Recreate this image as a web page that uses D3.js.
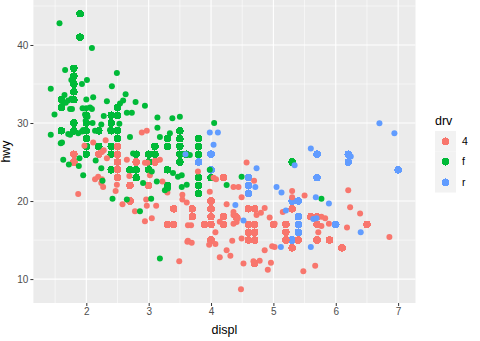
<!DOCTYPE html>
<html>
<head>
<meta charset="utf-8">
<script src="https://cdn.jsdelivr.net/npm/d3@7"></script>
<style>
  body { margin: 0; background: #ffffff; }
  text { font-family: "Liberation Sans", Arial, sans-serif; }
</style>
</head>
<body>
<svg id="chart" width="480" height="341"></svg>
<script>
// Fuel economy: engine displacement (litres) vs highway mpg, by drive train.
const displ = [
  1.8,1.8,2.0,2.0,2.8,2.8,3.1,
  1.8,1.8,2.0,2.0,2.8,2.8,3.1,3.1,
  2.8,3.1,4.2,
  5.3,5.3,5.3,5.7,6.0,
  5.7,5.7,6.2,6.2,7.0,
  5.3,5.3,5.7,6.5,
  2.4,2.4,3.1,3.5,3.6,
  2.4,3.0,3.3,3.3,3.3,3.3,3.3,3.8,3.8,3.8,4.0,
  3.7,3.7,3.9,3.9,4.7,4.7,4.7,5.2,5.2,
  3.9,4.7,4.7,4.7,5.2,5.7,5.9,
  4.7,4.7,4.7,4.7,4.7,4.7,5.2,5.2,5.7,5.9,
  4.6,5.4,5.4,
  4.0,4.0,4.0,4.0,4.6,5.0,
  4.2,4.2,4.6,4.6,4.6,5.4,5.4,
  3.8,3.8,4.0,4.0,4.6,4.6,4.6,4.6,5.4,
  1.6,1.6,1.6,1.6,1.6,1.8,1.8,1.8,2.0,
  2.4,2.4,2.4,2.4,2.5,2.5,3.3,
  2.0,2.0,2.0,2.0,2.7,2.7,2.7,
  3.0,3.7,4.0,4.7,4.7,4.7,5.7,6.1,
  4.0,4.2,4.4,4.6,
  5.4,5.4,5.4,
  4.0,4.0,4.6,5.0,
  2.4,2.4,2.5,2.5,3.5,3.5,
  3.0,3.0,3.5,
  3.3,3.3,4.0,5.6,
  3.1,3.8,3.8,3.8,5.3,
  2.5,2.5,2.5,2.5,2.5,2.5,
  2.2,2.2,2.5,2.5,2.5,2.5,2.5,2.5,
  2.7,2.7,3.4,3.4,4.0,4.7,
  2.2,2.2,2.4,2.4,3.0,3.0,3.5,
  2.2,2.2,2.4,2.4,3.0,3.0,3.3,
  1.8,1.8,1.8,1.8,1.8,
  4.7,5.7,
  2.7,2.7,2.7,3.4,3.4,4.0,4.0,
  2.0,2.0,2.0,2.0,2.8,
  1.9,2.0,2.0,2.0,2.0,2.5,2.5,2.8,2.8,
  1.9,1.9,2.0,2.0,2.5,2.5,
  1.8,1.8,2.0,2.0,2.8,2.8,3.6
];
const hwy = [
  29,29,31,30,26,26,27,
  26,25,28,27,25,25,25,25,
  24,25,23,
  20,15,20,17,17,
  26,23,26,25,24,
  19,14,15,17,
  27,30,26,29,26,
  24,24,22,22,24,24,17,22,21,23,23,
  19,18,17,17,19,19,12,17,15,
  17,17,12,17,16,18,15,
  16,12,17,17,16,12,15,16,17,15,
  17,17,18,
  17,19,17,19,19,17,
  17,17,16,16,17,15,17,
  26,25,26,24,21,22,23,22,20,
  33,32,32,29,32,34,36,36,29,
  26,27,30,31,26,26,28,
  26,29,28,27,24,24,24,
  22,19,20,17,12,19,18,14,
  15,18,18,15,
  17,16,18,
  17,19,19,17,
  29,27,31,32,27,26,
  26,25,25,
  17,17,20,18,
  26,26,27,28,25,
  25,24,27,25,26,23,
  26,26,26,26,25,27,25,27,
  20,20,19,17,20,17,
  29,27,31,31,26,26,28,
  27,29,31,31,26,26,27,
  30,33,35,37,35,
  15,18,
  20,20,22,17,19,18,20,
  29,26,29,29,24,
  44,29,26,29,29,29,29,23,24,
  44,41,29,26,28,29,
  29,29,28,29,26,26,26
];
const drv = [
  "fffffff","44444444","444","rrrrr","rrrrr","4444","fffff","fffffffffff",
  "444444444","4444444","4444444444","rrr","444444","4444444","rrrrrrrrr",
  "fffffffff","fffffff","fffffff","44444444","4444","rrr","4444","ffffff",
  "fff","4444","fffff","444444","44444444","444444","fffffff","fffffff",
  "fffff","44","4444444","fffff","fffffffff","ffffff","fffffff"
].join("").split("");

// Second, scattered copy of the observations (displ, hwy) for each drive train.
const jitter4 = [
  [1.97,27.1],[2.11,27.5],[2.31,27.8],[2.25,26.3],[2.28,26.5],[2.33,25.5],[2.65,25.3],
  [2.69,23.2],[2.14,22.8],[2.19,23.1],[2.25,22.8],[2.24,22.3],[2.27,21.8],[2.49,22.1],
  [1.87,20.9],[2.58,19.6],[2.78,18.7],[2.96,20.2],[2.97,19.4],[3.12,19.4],[2.94,17.4],
  [3.05,17.8],[3.30,21.1],[3.54,20.8],[3.54,20.2],[3.61,19.8],[3.62,14.8],[3.49,12.3],
  [2.89,28.8],[2.97,29.0],[2.94,24.9],[2.98,24.9],[3.18,25.3],[3.79,23.8],[3.22,22.5],
  [3.02,23.3],[4.04,23.0],[4.08,22.8],[3.98,21.2],[4.57,24.95],[4.69,22.6],[4.36,21.8],
  [4.44,21.8],[4.49,20.5],[5.30,21.3],[5.30,20.5],[5.50,20.7],[6.20,21.4],[6.23,19.2],
  [6.39,18.4],[5.77,18.0],[5.83,17.8],[5.77,16.8],[5.89,17.1],[6.18,16.6],[6.86,15.4],
  [5.67,11.7],[5.48,11.0],[5.72,16.0],[4.25,19.6],[4.86,19.1],[4.73,18.2],[4.80,18.5],
  [4.94,17.9],[5.02,17.1],[5.15,18.6],[3.63,16.9],[3.68,16.9],[3.63,14.9],[3.69,14.65],
  [3.97,14.4],[4.07,14.5],[4.07,16.0],[4.36,18.2],[4.36,17.1],[4.41,17.3],[4.34,14.9],
  [4.25,13.7],[4.31,13.0],[4.14,12.8],[4.52,12.0],[4.68,12.3],[4.78,12.35],[4.96,12.1],
  [4.91,11.2],[4.48,8.7],[4.86,13.7],[4.98,14.2],[5.02,14.1],[4.49,15.2],[4.14,17.35],
  [4.36,18.6],[4.43,17.8],[2.47,21.3]
];
const jitterF = [
  [1.57,42.8],[2.09,39.6],[1.43,34.4],[1.66,36.8],[1.76,35.5],[1.93,35.0],[2.01,35.5],
  [2.49,36.4],[2.41,34.7],[1.49,31.1],[1.43,28.5],[1.65,33.6],[1.61,32.2],[1.67,32.6],
  [1.71,32.9],[1.76,33.1],[1.74,31.8],[1.77,31.8],[2.00,33.0],[2.11,33.3],[2.00,31.9],
  [2.06,32.0],[2.09,31.8],[1.98,31.1],[2.02,30.8],[1.99,30.3],[1.59,27.4],[1.63,25.3],
  [1.72,24.7],[2.63,33.7],[2.33,32.8],[2.79,32.7],[1.94,31.9],[2.28,30.9],[2.54,32.5],
  [2.59,32.9],[2.65,31.3],[2.73,31.3],[2.10,30.0],[2.24,29.8],[2.53,29.9],[2.38,29.1],
  [1.74,28.5],[1.71,28.6],[1.87,28.7],[1.93,28.9],[1.95,29.1],[2.14,29.0],[2.70,28.2],
  [1.61,27.5],[2.75,26.1],[1.89,25.5],[2.15,25.2],[2.24,24.2],[1.95,23.3],[2.42,20.3],
  [2.65,20.2],[2.86,18.7],[3.04,20.3],[3.26,21.4],[3.18,12.65],[2.94,32.2],[3.38,30.6],
  [3.50,30.8],[4.05,30.0],[3.66,25.9],[3.34,28.7],[3.18,28.2],[3.05,23.8],[3.39,23.6],
  [3.47,23.1],[3.53,23.3],[3.13,22.5],[3.31,21.6],[2.91,22.3],[3.53,21.8],[3.61,22.1],
  [3.98,24.0],[4.25,22.05],[4.49,23.1],[5.77,20.3],[1.88,24.5],[2.26,22.6],[3.14,30.7],
  [3.14,29.4]
];
const jitterR = [
  [3.98,28.8],[4.11,28.8],[4.04,27.2],[3.59,26.0],[5.60,26.75],[5.34,24.6],[4.73,24.2],
  [4.71,21.8],[5.05,21.8],[5.13,21.1],[5.68,20.5],[6.24,25.7],[6.70,29.96],[6.94,28.7],
  [5.89,19.7],[5.64,17.7],[5.69,17.8],[6.40,16.0],[5.60,14.1],[4.39,19.5],[5.20,18.8],
  [5.12,14.1],[4.52,17.5]
];

const drvLevels = ["4", "f", "r"];
const drvColors = ["#F8766D", "#00BA38", "#619CFF"];
const xTicks = [2, 3, 4, 5, 6, 7];
const yTicks = [10, 20, 30, 40];
const xTitle = "displ", yTitle = "hwy", legendTitle = "drv";

// ---- assemble observations ----
const exact = displ.map((d, i) => ({ x: d, y: hwy[i], drv: drv[i] }));
const scattered = []
  .concat(jitter4.map(p => ({ x: p[0], y: p[1], drv: "4" })))
  .concat(jitterF.map(p => ({ x: p[0], y: p[1], drv: "f" })))
  .concat(jitterR.map(p => ({ x: p[0], y: p[1], drv: "r" })));
const all = exact.concat(scattered);

const svg = d3.select("#chart");
const panel = { left: 33.4, right: 415.5, top: 0, bottom: 303 };

// continuous scales with 5% expansion on each side
function expanded(ext) { const p = (ext[1] - ext[0]) * 0.05; return [ext[0] - p, ext[1] + p]; }
const x = d3.scaleLinear().domain(expanded(d3.extent(all, d => d.x))).range([panel.left, panel.right]);
const y = d3.scaleLinear().domain(expanded(d3.extent(all, d => d.y))).range([panel.bottom, panel.top]);
const colour = d3.scaleOrdinal().domain(drvLevels).range(drvColors);

// panel background
svg.append("rect")
  .attr("x", panel.left).attr("y", panel.top)
  .attr("width", panel.right - panel.left).attr("height", panel.bottom - panel.top)
  .attr("fill", "#EBEBEB");

// minor grid
const xd = x.domain(), yd = y.domain();
const xMinor = d3.range(Math.ceil(xd[0] * 2) / 2, xd[1], 0.5).filter(v => !xTicks.includes(v));
const yMinor = d3.range(Math.ceil(yd[0] / 5) * 5, yd[1], 5).filter(v => !yTicks.includes(v));
const grid = svg.append("g");
grid.selectAll(".xminor").data(xMinor).join("line")
  .attr("x1", d => x(d)).attr("x2", d => x(d)).attr("y1", panel.top).attr("y2", panel.bottom)
  .attr("stroke", "#ffffff").attr("stroke-width", 0.55);
grid.selectAll(".yminor").data(yMinor).join("line")
  .attr("y1", d => y(d)).attr("y2", d => y(d)).attr("x1", panel.left).attr("x2", panel.right)
  .attr("stroke", "#ffffff").attr("stroke-width", 0.55);
grid.selectAll(".xmajor").data(xTicks).join("line")
  .attr("x1", d => x(d)).attr("x2", d => x(d)).attr("y1", panel.top).attr("y2", panel.bottom)
  .attr("stroke", "#ffffff").attr("stroke-width", 1.1);
grid.selectAll(".ymajor").data(yTicks).join("line")
  .attr("y1", d => y(d)).attr("y2", d => y(d)).attr("x1", panel.left).attr("x2", panel.right)
  .attr("stroke", "#ffffff").attr("stroke-width", 1.1);

// points: observations at their values, then the scattered copy
svg.append("g").selectAll("circle").data(exact).join("circle")
  .attr("cx", d => x(d.x)).attr("cy", d => y(d.y)).attr("r", 3.8)
  .attr("fill", d => colour(d.drv)).attr("shape-rendering", "crispEdges");
svg.append("g").selectAll("circle").data(scattered).join("circle")
  .attr("cx", d => x(d.x)).attr("cy", d => y(d.y)).attr("r", 3.0)
  .attr("fill", d => colour(d.drv));

// axes
const xAxis = svg.append("g").attr("transform", `translate(0,${panel.bottom})`)
  .call(d3.axisBottom(x).tickValues(xTicks).tickSize(3).tickPadding(2).tickFormat(d3.format("d")));
const yAxis = svg.append("g").attr("transform", `translate(${panel.left},0)`)
  .call(d3.axisLeft(y).tickValues(yTicks).tickSize(3).tickPadding(2).tickFormat(d3.format("d")));
[xAxis, yAxis].forEach(a => {
  a.select(".domain").remove();
  a.selectAll(".tick line").attr("stroke", "#333333").attr("stroke-width", 1);
  a.selectAll(".tick text").attr("fill", "#4D4D4D").style("font-size", "10px")
    .style("font-family", "'Liberation Sans', Arial, sans-serif");
});

// axis titles
svg.append("text").attr("x", (panel.left + panel.right) / 2).attr("y", 334)
  .attr("text-anchor", "middle").style("font-size", "12.5px").attr("fill", "#000").text(xTitle);
svg.append("text").attr("transform", `translate(10,${(panel.top + panel.bottom) / 2}) rotate(-90)`)
  .attr("text-anchor", "middle").style("font-size", "12.5px").attr("fill", "#000").text(yTitle);

// legend
const lg = svg.append("g").attr("transform", "translate(435,0)");
lg.append("text").attr("x", 0).attr("y", 125).style("font-size", "12.5px").attr("fill", "#000").text(legendTitle);
const keySize = 20.5, keyTop = 131;
drvLevels.forEach((lv, i) => {
  const ky = keyTop + i * keySize;
  lg.append("rect").attr("x", 0).attr("y", ky).attr("width", 21).attr("height", keySize)
    .attr("fill", "#F2F2F2");
  lg.append("circle").attr("cx", 10.5).attr("cy", ky + keySize / 2).attr("r", 3.8)
    .attr("fill", colour(lv)).attr("shape-rendering", "crispEdges");
  lg.append("text").attr("x", 27).attr("y", ky + keySize / 2).attr("dy", "0.35em")
    .style("font-size", "10.5px").attr("fill", "#000").text(lv);
});
</script>
</body>
</html>
